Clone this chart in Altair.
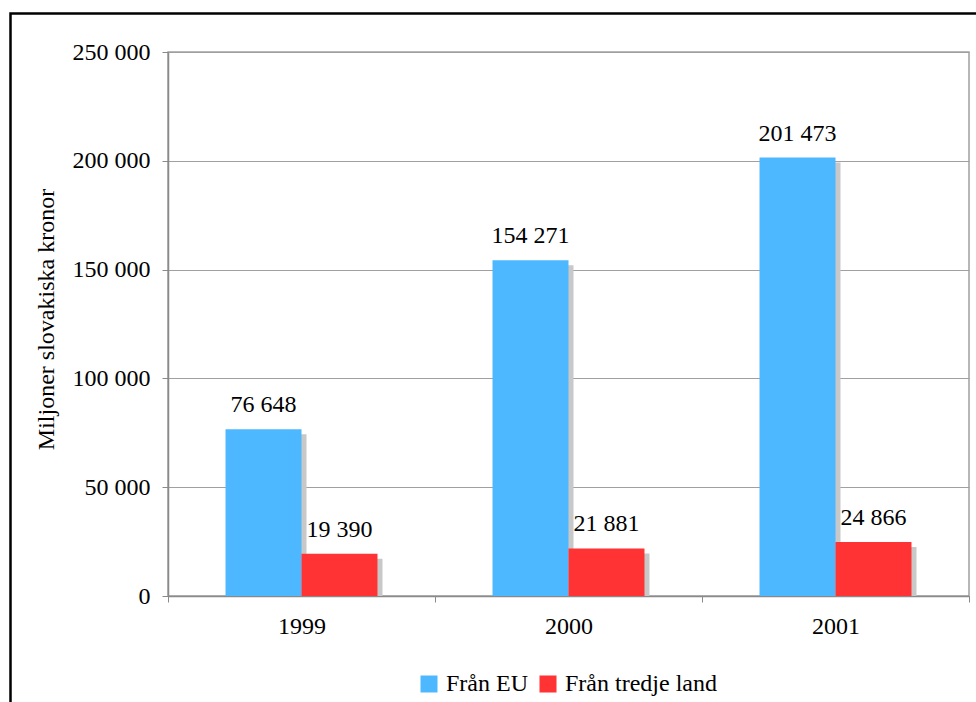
import altair as alt
import pandas as pd

# Export values, millions of Slovak koruna
years = ["1999", "2000", "2001"]
series = ["Från EU", "Från tredje land"]
fran_eu = [76648, 154271, 201473]
fran_tredje = [19390, 21881, 24866]
colors = ["#4DB8FF", "#FF3333"]
y_ticks = [0, 50000, 100000, 150000, 200000, 250000]

rows = []
for i, yr in enumerate(years):
    rows.append({"year": yr, "serie": series[0], "value": fran_eu[i]})
    rows.append({"year": yr, "serie": series[1], "value": fran_tredje[i]})
df = pd.DataFrame(rows)

FONT = "Liberation Serif, Tinos, Times New Roman, DejaVu Serif, serif"
AXIS_GREY = "#8A8A8A"
BAND = 267          # width of one year band in pixels
SHIFT = 5           # drop-shadow displacement

x_enc = alt.X(
    "year:N",
    sort=years,
    scale=alt.Scale(paddingInner=0, paddingOuter=0),
    axis=alt.Axis(
        title=None,
        labelAngle=0,
        labelFont=FONT,
        labelFontSize=24,
        labelColor="black",
        labelBaseline="alphabetic",
        labelPadding=31,
        tickBand="extent",
        tickSize=6,
        tickColor=AXIS_GREY,
        domainColor=AXIS_GREY,
        domainWidth=1.5,
        grid=False,
    ),
)


def offset_enc(start):
    return alt.XOffset(
        "serie:N",
        sort=series,
        scale=alt.Scale(
            domain=series, paddingInner=0, paddingOuter=0.757,
            range=[start, start + BAND],
        ),
    )


y_enc = alt.Y(
    "value:Q",
    scale=alt.Scale(domain=[0, 250000], nice=False),
    axis=alt.Axis(
        values=y_ticks,
        format=",.0f",
        labelFont=FONT,
        labelFontSize=24,
        labelColor="black",
        labelPadding=12,
        tickSize=6,
        tickColor=AXIS_GREY,
        domainColor=AXIS_GREY,
        domainWidth=1.5,
        grid=True,
        gridColor="#A0A0A0",
        gridWidth=1,
        title="Miljoner slovakiska kronor",
        titleFont=FONT,
        titleFontSize=24,
        titleFontWeight="normal",
        titleColor="black",
        titleAngle=-90,
        titleAlign="center",
        titleBaseline="alphabetic",
        titleX=-115,
        titleY=267,
    ),
)
color_enc = alt.Color(
    "serie:N",
    sort=series,
    scale=alt.Scale(domain=series, range=colors),
    legend=alt.Legend(
        title=None,
        orient="none",
        legendX=249,
        legendY=620,
        direction="horizontal",
        symbolType="square",
        symbolSize=289,
        symbolStrokeWidth=0,
        labelFont=FONT,
        labelFontSize=24,
        labelColor="black",
        labelOffset=5,
        columnPadding=8,
        padding=0,
    ),
)

# grey drop shadow, shifted right and down
shadow = alt.Chart(df).mark_bar(
    color="#C8C8C8", yOffset=SHIFT, y2Offset=0.01
).encode(
    x=x_enc, xOffset=offset_enc(SHIFT), y=y_enc, y2=alt.Y2(datum=0)
)

front = alt.Chart(df).encode(x=x_enc, xOffset=offset_enc(0), y=y_enc)
bars = front.mark_bar().encode(color=color_enc)
labels = front.mark_text(
    font=FONT, fontSize=24, color="black", baseline="alphabetic", dy=-17
).encode(text=alt.Text("value:Q", format=",.0f"))

frame = alt.Chart(pd.DataFrame({"k": [0]})).mark_rect(
    fillOpacity=0, stroke="black", strokeWidth=2.5
).encode(
    x=alt.value(-157.5), x2=alt.value(1000),
    y=alt.value(-38.5), y2=alt.value(900),
)

chart = (
    alt.layer(shadow, alt.layer(bars, labels), frame)
    .resolve_scale(xOffset="independent")
    .properties(
        width=801,
        height=544,
        autosize=alt.AutoSizeParams(type="none"),
        padding={"left": 168, "top": 52, "right": 7, "bottom": 106},
        background="white",
    )
    .configure_view(stroke="#A0A0A0", strokeWidth=1.5)
)

chart.save(
    "out.html",
    embed_options={
        "renderer": "svg",
        "actions": False,
        "formatLocale": {
            "decimal": ",",
            "thousands": " ",
            "grouping": [3],
            "currency": ["", " kr"],
        },
    },
)
